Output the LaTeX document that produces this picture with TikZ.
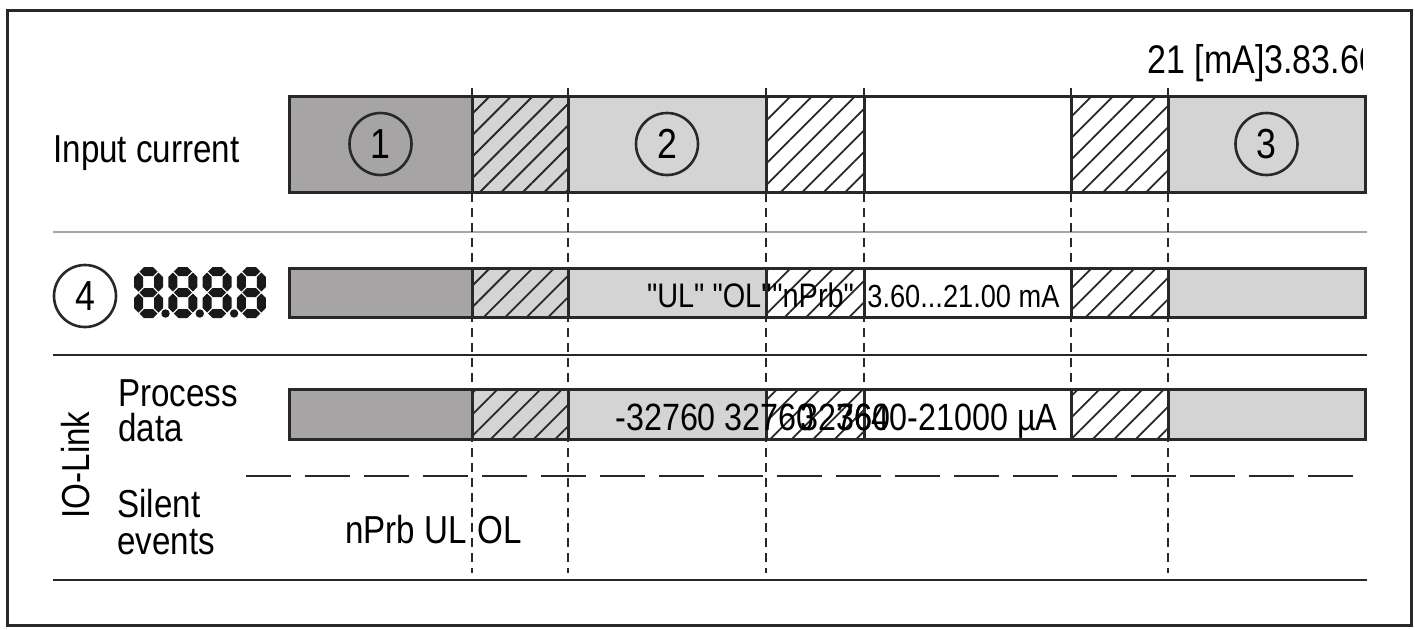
\documentclass[tikz,border=0pt]{standalone}
\usepackage{fontspec}
\setmainfont{Liberation Sans}[FakeStretch=0.85,Ligatures=TeXOff]
\usetikzlibrary{shapes,arrows}
\usetikzlibrary{patterns.meta}

\definecolor{linec}{RGB}{40,40,40}
\definecolor{darkc}{RGB}{166,164,164}
\definecolor{lightc}{RGB}{212,212,212}

\newcommand{\tsize}[1]{\fontsize{#1}{#1}\selectfont}
% seven segment pieces: tip x, tip y, length
\newcommand{\lcdh}[3]{\fill[lcd] (#1,#2) -- ++(4.5,-4.5) -- ++({#3-9},0) -- ++(4.5,4.5) -- ++(-4.5,4.5) -- ++({9-#3},0) -- cycle;}
\newcommand{\lcdv}[3]{\fill[lcd] (#1,#2) -- ++(4.5,4.5) -- ++(0,{#3-9}) -- ++(-4.5,4.5) -- ++(-4.5,-4.5) -- ++(0,{9-#3}) -- cycle;}

\begin{document}
\begin{tikzpicture}[x=0.5pt,y=-0.5pt]
        % input ranges and what display and IO-Link show for them
        \tikzstyle{lbl} = [inner sep=0,font=\tsize{19.5}];
        \tikzstyle{bartext} = [inner sep=0,font=\tsize{17}];
        \tikzstyle{pdtext} = [inner sep=0,font=\tsize{19}];
        \tikzstyle{seg} = [draw=linec,line width=1.5pt,rectangle,inner sep=0,outer sep=0];
        \tikzstyle{segdark} = [fill=darkc];
        \tikzstyle{seglight} = [fill=lightc];
        \tikzstyle{segblank} = [fill=white];
        \tikzstyle{seghatchg} = [preaction={fill=lightc},pattern={Lines[angle=45,distance=7.6pt,line width=0.9pt]},pattern color=linec];
        \tikzstyle{seghatch} = [preaction={fill=white},pattern={Lines[angle=45,distance=7.6pt,line width=0.9pt]},pattern color=linec];
        \tikzstyle{numcirc} = [circle,draw=linec,line width=1.3pt,minimum size=31pt,inner sep=0,font=\tsize{21}];
        \tikzstyle{marker} = [draw=linec,line width=0.75pt,dash pattern=on 4.5pt off 3pt];
        \tikzstyle{lcd} = [fill=black!90];

        \useasboundingbox (0,0) rectangle (1415,629);
        \draw[linec,line width=1.5pt] (7,10) rectangle (1411,625);

        \draw[gray!70,line width=1pt] (53,232) -- (1367,232);
        \draw[linec,line width=1pt] (53,355) -- (1367,355);
        \draw[linec,line width=1pt] (53,580) -- (1367,580);
        \draw[linec,line width=1.2pt,dash pattern=on 22.5pt off 7pt] (246,476) -- (1367,476);

        \foreach \x in {472,568,766,1168} \draw[marker] (\x,88) -- (\x,573);
        \foreach \x in {864,1071} \draw[marker] (\x,88) -- (\x,389);

        \foreach \r/\t/\b in {in/96/192, disp/268/317, pd/389/439} {
            \foreach \u/\v/\st [count=\i] in {289/472/segdark, 472/568/seghatchg, 568/766/seglight, 766/864/seghatch, 864/1071/segblank, 1071/1168/seghatch, 1168/1365/seglight}
                \node[seg,\st,minimum width={(\v-\u)*0.5pt},minimum height={(\b-\t)*0.5pt}] (\r\i) at ({(\u+\v)/2},{(\t+\b)/2}) {};
        }

        \node[numcirc] (c1) at (in1) {1};
        \node[numcirc] (c2) at (in3) {2};
        \node[numcirc] (c3) at (in7) {3};
        \node[numcirc] (c4) at (85,296) {4};

        \begin{scope}
            \clip (1100,30) rectangle (1362,100);
            \node[lbl,anchor=base west,font=\tsize{20}] (scale) at (1147,73) {21 [mA]3.83.60};
        \end{scope}

        \node[lbl,anchor=base west] (incur) at (53,162) {Input current};
        \node[lbl,anchor=base west] (proc) at (118,406) {Process};
        \node[lbl,anchor=base west] (pdat) at (118,441) {data};
        \node[lbl,anchor=base west] (silent) at (117,517) {Silent};
        \node[lbl,anchor=base west] (events) at (117,554) {events};
        \node[lbl,rotate=90,anchor=base] (iolink) at (89,465) {IO-Link};
        \node[lbl,anchor=base west] (evlow) at (345,543) {nPrb UL};
        \node[lbl,anchor=base west] (evhigh) at (477,543) {OL};

        \node[bartext,anchor=base east] (ulol) at (772,307) {"UL" "OL"};
        \node[bartext,anchor=base west] (nprb) at (772,307) {"nPrb"};
        \node[bartext,anchor=base west,font=\tsize{16}] (marange) at (867,307) {3.60...21.00 mA};

        \node[pdtext,anchor=base west] (pdlim) at (615,430) {-32760 32760};
        \node[pdtext,anchor=base west] (pdtop) at (800,430) {32760};
        \node[pdtext,anchor=base east] (pdrange) at (1058,430) {3640-21000 µA};

        % the 8.8.8.8 display
        \foreach \d in {0,...,3} {
            \pgfmathsetmacro{\ox}{134+34.3*\d}
            \lcdh{\ox+5.5}{271.5}{18}
            \lcdh{\ox+5.5}{292.5}{18}
            \lcdh{\ox+5.5}{313.5}{18}
            \lcdv{\ox+4.5}{272.5}{19}
            \lcdv{\ox+24.5}{272.5}{19}
            \lcdv{\ox+4.5}{293.5}{19}
            \lcdv{\ox+24.5}{293.5}{19}
        }
        \foreach \d in {0,1,2} \fill[lcd] (165.5+34.3*\d,313.5) circle (2.1pt);

    \end{tikzpicture}
\end{document}
